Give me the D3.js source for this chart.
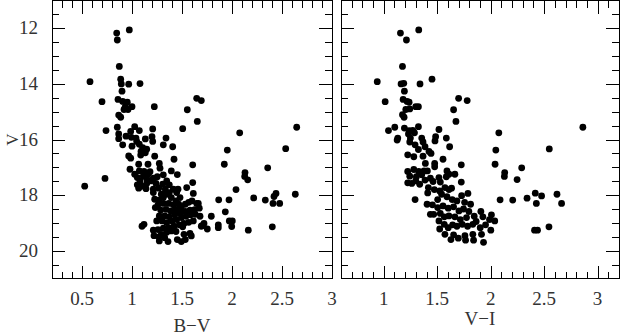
<!DOCTYPE html>
<html>
<head>
<meta charset="utf-8">
<script src="https://cdn.jsdelivr.net/npm/d3@7"></script>
<style>
  html, body { margin: 0; padding: 0; background: #fff; }
  svg { display: block; }
</style>
</head>
<body>
<div id="chart"></div>
<script>
// axis tick labels
const yTickLabels = [12, 14, 16, 18, 20];
const bvTickLabels = [0.5, 1, 1.5, 2, 2.5, 3];
const viTickLabels = [1, 1.5, 2, 2.5, 3];

// stars: [B-V, V]
const bvStars = [
  [0.973, 12.06], [0.847, 12.17], [0.853, 12.42], [0.873, 13.37], [0.58, 13.92],
  [0.887, 13.83], [0.893, 14.0], [0.967, 14.01], [1.08, 13.99], [0.9, 14.26],
  [0.7, 14.64], [0.86, 14.56], [0.907, 14.63], [0.953, 14.66], [0.933, 14.82],
  [1.0, 14.82], [0.92, 14.92], [0.96, 14.92], [1.223, 14.82], [0.867, 15.12],
  [0.887, 15.2], [0.853, 15.56], [0.74, 15.68], [1.027, 15.54], [0.987, 15.71],
  [1.073, 15.68], [0.867, 15.8], [0.867, 15.97], [0.94, 15.88], [0.993, 15.92],
  [1.04, 15.95], [1.133, 15.98], [1.207, 15.62], [1.2, 15.9], [1.207, 16.07],
  [0.907, 16.19], [1.0, 16.24], [1.047, 16.07], [1.073, 16.17], [1.107, 16.29],
  [1.09, 16.43], [1.133, 16.48], [1.147, 16.35], [1.227, 16.6], [0.967, 16.59],
  [0.987, 16.67], [1.087, 16.56], [1.34, 15.95], [1.313, 16.19], [1.407, 16.26],
  [1.42, 16.71], [1.393, 17.13], [1.453, 17.26], [1.273, 16.86], [1.16, 16.89],
  [1.067, 16.89], [0.98, 17.07], [1.027, 17.25], [1.073, 17.13], [1.12, 17.15],
  [1.18, 17.16], [1.28, 17.03], [1.313, 17.27], [1.607, 16.91], [1.507, 15.61],
  [1.553, 14.93], [1.647, 14.52], [1.693, 14.6], [1.653, 15.35], [0.527, 17.68],
  [0.73, 17.4],
  [1.053, 17.37], [1.08, 17.49], [1.113, 17.32], [1.147, 17.41], [1.053, 17.63],
  [1.1, 17.68], [1.147, 17.58], [1.187, 17.49], [1.213, 17.39], [1.24, 17.58],
  [1.213, 17.79], [1.14, 17.77], [1.067, 17.75], [1.253, 17.34], [1.16, 17.25],
  [1.267, 17.75], [1.307, 17.61], [1.347, 17.49], [1.373, 17.63], [1.333, 17.79],
  [1.293, 17.97], [1.213, 17.91], [1.227, 18.15], [1.267, 18.18], [1.313, 18.09],
  [1.347, 17.97], [1.373, 17.91], [1.413, 17.79], [1.447, 17.91], [1.393, 18.09],
  [1.44, 18.21], [1.48, 18.09], [1.467, 18.33], [1.413, 18.35], [1.367, 18.3],
  [1.313, 18.3], [1.26, 18.35], [1.233, 18.45], [1.287, 18.54], [1.34, 18.51],
  [1.387, 18.57], [1.44, 18.52], [1.493, 18.45], [1.533, 18.33], [1.567, 18.26],
  [1.6, 18.21], [1.647, 18.3], [1.673, 18.47], [1.627, 18.52], [1.58, 18.54],
  [1.533, 18.59], [1.48, 18.64], [1.427, 18.71], [1.373, 18.78], [1.327, 18.75],
  [1.273, 18.75], [1.247, 18.93], [1.3, 18.93], [1.347, 18.99], [1.4, 18.93],
  [1.447, 18.88], [1.493, 18.81], [1.54, 18.76], [1.587, 18.71], [1.633, 18.69],
  [1.68, 18.76], [1.613, 18.93], [1.567, 18.98], [1.52, 19.02], [1.473, 19.07],
  [1.42, 19.12], [1.367, 19.17], [1.313, 19.19], [1.26, 19.24], [1.213, 19.26],
  [1.293, 19.41], [1.347, 19.34], [1.393, 19.29], [1.44, 19.31], [1.507, 19.14],
  [1.22, 19.46], [1.267, 19.5], [1.327, 19.53], [1.453, 19.6], [1.493, 19.67],
  [1.533, 19.6], [1.52, 19.41], [1.58, 19.38], [1.593, 19.47], [1.36, 19.67],
  [1.273, 19.65],
  [1.607, 17.55], [1.613, 17.94], [1.547, 17.73], [1.46, 17.79], [1.72, 19.02],
  [1.693, 19.12], [1.753, 19.22], [1.793, 18.76], [1.867, 18.17], [1.863, 19.07],
  [1.863, 19.17], [1.933, 18.6], [1.923, 16.89], [1.953, 16.38], [1.97, 18.17],
  [1.973, 18.93], [1.997, 19.13], [2.003, 18.93], [2.04, 17.8], [2.077, 15.76],
  [2.13, 17.19], [2.127, 17.33], [2.157, 17.45], [2.163, 19.26], [2.217, 18.1],
  [2.333, 18.18], [2.357, 17.02], [2.403, 19.14], [2.41, 18.3], [2.42, 18.05],
  [2.44, 17.94], [2.477, 18.3], [2.537, 16.33], [2.633, 17.97], [2.647, 15.56],
  [1.1, 19.12], [1.12, 19.05], [1.663, 18.3], [1.7, 19.1]
];

// stars: [V-I, V]
const viStars = [
  [1.327, 12.06], [1.156, 12.17], [1.212, 12.42], [1.175, 13.37], [0.939, 13.92],
  [1.162, 14.0], [1.187, 13.98], [1.339, 14.0], [1.451, 13.83], [1.193, 14.26],
  [1.013, 14.64], [1.181, 14.56], [1.218, 14.63], [1.237, 14.66], [1.299, 14.82],
  [1.324, 14.82], [1.206, 14.92], [1.243, 14.9], [1.7, 14.52], [1.78, 14.6],
  [1.653, 14.93], [1.675, 15.35], [1.175, 15.11], [1.19, 15.2], [1.044, 15.68],
  [1.103, 15.56], [1.193, 15.59], [1.237, 15.68], [1.271, 15.67], [1.324, 15.54],
  [1.231, 15.8], [1.287, 15.76], [1.131, 15.95], [1.125, 16.02], [1.249, 15.95],
  [1.243, 16.09], [1.293, 16.19], [1.355, 15.95], [1.367, 16.09], [1.324, 16.36],
  [1.516, 15.64], [1.485, 15.9], [1.479, 16.05], [1.585, 15.95], [1.616, 16.26],
  [1.386, 16.26], [1.423, 16.43], [1.442, 16.5], [1.224, 16.55], [1.281, 16.62],
  [1.367, 16.6], [1.554, 16.71], [1.389, 16.86], [1.476, 16.86], [1.476, 16.98],
  [1.725, 16.91], [1.224, 17.15], [1.281, 17.08], [1.327, 17.15], [1.377, 17.13],
  [1.408, 17.13], [1.355, 17.27], [1.305, 17.34], [1.243, 17.32], [1.299, 17.49],
  [1.224, 17.56], [1.262, 17.58], [1.336, 17.61], [1.386, 17.46], [1.436, 17.39],
  [1.461, 17.51], [1.516, 17.37], [1.529, 17.53], [1.591, 17.13], [1.61, 17.25],
  [1.665, 17.25], [1.585, 17.34], [1.725, 17.53], [1.417, 17.73], [1.473, 17.8],
  [1.411, 17.92], [1.523, 17.85], [1.572, 17.73], [1.61, 17.8], [1.634, 17.75],
  [1.293, 18.16], [1.405, 18.33], [1.455, 18.35], [1.504, 18.16], [1.541, 17.97],
  [1.591, 18.06], [1.64, 18.16], [1.684, 18.21], [1.728, 18.02], [1.787, 17.94],
  [1.756, 18.26], [1.812, 18.33], [1.504, 18.45], [1.554, 18.39], [1.603, 18.47],
  [1.653, 18.42], [1.703, 18.57], [1.746, 18.5], [1.796, 18.59], [1.908, 18.59],
  [1.436, 18.69], [1.467, 18.69], [1.529, 18.66], [1.566, 18.78], [1.609, 18.75],
  [1.665, 18.78], [1.716, 18.88], [1.774, 18.81], [1.846, 18.76], [1.864, 18.95],
  [1.927, 18.78], [2.007, 18.71], [1.989, 18.88], [2.038, 18.93], [1.516, 18.93],
  [1.566, 19.05], [1.523, 19.22], [1.603, 19.17], [1.644, 19.07], [1.684, 19.12],
  [1.734, 19.05], [1.784, 19.12], [1.833, 19.05], [1.902, 19.17], [1.952, 19.07],
  [2.001, 19.26], [1.572, 19.41], [1.653, 19.43], [1.628, 19.6], [1.759, 19.46],
  [1.765, 19.62], [1.84, 19.62], [1.833, 19.41], [1.914, 19.41], [1.933, 19.7],
  [1.697, 19.55],
  [2.076, 15.76], [2.048, 16.38], [2.041, 16.89], [2.131, 17.19], [2.128, 17.33],
  [2.247, 17.44], [2.29, 17.02], [2.088, 18.17], [2.206, 18.18], [2.34, 18.11],
  [2.417, 17.93], [2.476, 18.03], [2.427, 18.3], [2.62, 17.97], [2.663, 18.3],
  [2.548, 16.34], [2.862, 15.56], [2.41, 19.26], [2.438, 19.26], [2.545, 19.14]
];

const W = 620, H = 336;
const plotTop = 0.5, plotBottom = 278.5;
const font = '"Liberation Serif", "DejaVu Serif", serif';
const textColor = '#333';

const svg = d3.select('#chart')
  .append('svg')
  .attr('width', W)
  .attr('height', H);

const y = d3.scaleLinear().domain([11, 21]).range([plotTop, plotBottom]);

function drawPanel({ left, right, domain, stars, tickLabels, title, titleY, showY }) {
  const x = d3.scaleLinear().domain(domain).range([left, right]);
  const g = svg.append('g');

  // ticks every 0.1 in colour, every 0.5 in V; all point inward
  const xMinor = d3.range(Math.ceil(domain[0] * 10), Math.floor(domain[1] * 10) + 1).map(d => d / 10);
  const yMinor = d3.range(23, 42).map(d => d / 2);

  const isMajorX = d => Math.abs(d * 2 - Math.round(d * 2)) < 1e-6;
  const isMajorY = d => d % 2 === 0;

  const tickLine = g.append('g')
    .attr('stroke', '#000')
    .attr('stroke-width', 1)
    .attr('shape-rendering', 'crispEdges');

  xMinor.forEach(d => {
    const len = isMajorX(d) ? 13 : 7;
    const px = Math.round(x(d)) + 0.5;
    tickLine.append('line').attr('x1', px).attr('x2', px)
      .attr('y1', plotBottom).attr('y2', plotBottom - len);
    tickLine.append('line').attr('x1', px).attr('x2', px)
      .attr('y1', plotTop).attr('y2', plotTop + len);
  });

  yMinor.forEach(d => {
    const len = isMajorY(d) ? 13 : 7;
    const py = Math.round(y(d)) + 0.5;
    tickLine.append('line').attr('y1', py).attr('y2', py)
      .attr('x1', left).attr('x2', left + len);
    tickLine.append('line').attr('y1', py).attr('y2', py)
      .attr('x1', right).attr('x2', right - len);
  });

  // frame
  g.append('rect')
    .attr('x', left)
    .attr('y', plotTop)
    .attr('width', right - left)
    .attr('height', plotBottom - plotTop)
    .attr('fill', 'none')
    .attr('stroke', '#000')
    .attr('stroke-width', 1)
    .attr('shape-rendering', 'crispEdges');

  // stars
  g.append('g')
    .selectAll('circle')
    .data(stars)
    .enter()
    .append('circle')
    .attr('cx', d => x(d[0]))
    .attr('cy', d => y(d[1]))
    .attr('r', 3.4)
    .attr('fill', '#000');

  // x tick labels
  g.append('g')
    .selectAll('text')
    .data(tickLabels)
    .enter()
    .append('text')
    .attr('x', d => x(d))
    .attr('y', 305)
    .attr('text-anchor', 'middle')
    .style('font-family', font)
    .style('font-size', '19px')
    .attr('fill', textColor)
    .text(d => d);

  // y tick labels and title
  if (showY) {
    g.append('g')
      .selectAll('text')
      .data(yTickLabels)
      .enter()
      .append('text')
      .attr('x', 38)
      .attr('y', d => y(d) + 6)
      .attr('text-anchor', 'end')
      .style('font-family', font)
      .style('font-size', '19px')
      .attr('fill', textColor)
      .text(d => d);

    g.append('text')
      .attr('transform', `translate(18, ${y(16)}) rotate(-90)`)
      .attr('text-anchor', 'middle')
      .style('font-family', font)
      .style('font-size', '17px')
      .attr('fill', textColor)
      .text('V');
  }

  g.append('text')
    .attr('x', (left + right) / 2)
    .attr('y', titleY)
    .attr('text-anchor', 'middle')
    .style('font-family', font)
    .style('font-size', '19px')
    .attr('fill', textColor)
    .text(title);
}

drawPanel({
  left: 52, right: 332, domain: [0.2, 3.0], stars: bvStars,
  tickLabels: bvTickLabels, title: 'B\u2212V', titleY: 332, showY: true
});

drawPanel({
  left: 341, right: 619, domain: [0.6, 3.2], stars: viStars,
  tickLabels: viTickLabels, title: 'V\u2212I', titleY: 325, showY: false
});
</script>
</body>
</html>
